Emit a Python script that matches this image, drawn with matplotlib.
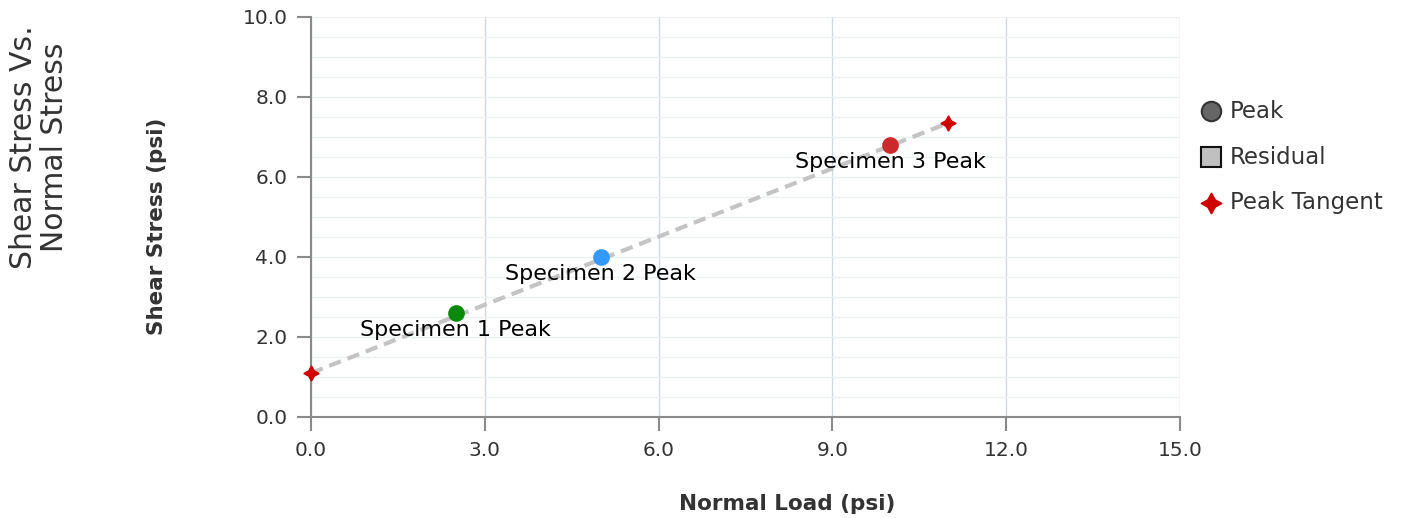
import matplotlib
matplotlib.use("Agg")
import matplotlib.pyplot as plt
from matplotlib.lines import Line2D
from matplotlib.ticker import MultipleLocator

# data
specimen_labels = ["Specimen 1 Peak", "Specimen 2 Peak", "Specimen 3 Peak"]
specimen_x = [2.5, 5.0, 10.0]
specimen_y = [2.6, 4.0, 6.8]
specimen_colors = ["#0a8a0a", "#3399ff", "#cc2a2a"]

tangent_x = [0.0, 11.0]
tangent_y = [1.1, 7.35]

legend_labels = ["Peak", "Residual", "Peak Tangent"]

W, H = 1406, 518
fig = plt.figure(figsize=(W / 100, H / 100), dpi=100)
ax = fig.add_axes([311 / W, 1 - 417 / H, (1180 - 311) / W, 400 / H])

ax.set_xlim(0, 15)
ax.set_ylim(0, 10)
ax.xaxis.set_major_locator(MultipleLocator(3))
ax.yaxis.set_major_locator(MultipleLocator(2))
ax.yaxis.set_minor_locator(MultipleLocator(0.5))
ax.set_xticklabels([f"{v:.1f}" for v in ax.get_xticks()])
ax.set_yticklabels([f"{v:.1f}" for v in ax.get_yticks()])

# grid
ax.grid(True, axis="x", which="major", color="#cfd9e3", lw=1)
ax.grid(True, axis="y", which="both", color="#edf0f3", lw=1)
ax.set_axisbelow(True)

for s in ["top", "right"]:
    ax.spines[s].set_visible(False)
for s in ["left", "bottom"]:
    ax.spines[s].set_color("#8a8a8a")
    ax.spines[s].set_linewidth(1.5)

ax.tick_params(axis="both", which="major", color="#8a8a8a", width=1.5, length=10,
               labelsize=14.5, labelcolor="#333333", pad=7)
ax.tick_params(axis="y", which="minor", length=0)

# tangent line
ax.plot(tangent_x, tangent_y, color="#c4c4c4", lw=3, ls=(0, (3, 1.7)), zorder=2)
ax.plot(tangent_x, tangent_y, ls="none", marker=(4, 1, 0), ms=11, color="#d00000",
        mec="#d00000", zorder=4, clip_on=False)

# specimen peaks
for lab, x, y, c in zip(specimen_labels, specimen_x, specimen_y, specimen_colors):
    ax.plot(x, y, "o", ms=11, color=c, mec=c, zorder=3)
    ax.annotate(lab, (x, y), xytext=(0, -12), textcoords="offset points",
                ha="center", va="center", fontsize=16, color="black")

# axis titles
fig.text(787 / W, 1 - 504 / H, "Normal Load (psi)", ha="center", va="center",
         fontsize=15.5, fontweight="bold", color="#333333")
fig.text(157 / W, 1 - 226 / H, "Shear Stress (psi)", ha="center", va="center",
         rotation=90, fontsize=15.5, fontweight="bold", color="#333333")
fig.text(39 / W, 1 - 147 / H, "Shear Stress Vs.\nNormal Stress", rotation=90, ha="center",
         va="center", fontsize=21.5, color="#333333", linespacing=1.05)

# legend
handles = [
    dict(marker="o", ms=14, mfc="#666666", mec="#333333", mew=1.5),
    dict(marker="s", ms=14, mfc="#c0c0c0", mec="#111111", mew=1.5),
    dict(marker=(4, 1, 0), ms=15, mfc="#d00000", mec="#d00000", mew=1),
]
for i, (lab, h) in enumerate(zip(legend_labels, handles)):
    yy = 1 - (111 + 46 * i) / H
    fig.add_artist(Line2D([1211 / W], [yy], ls="none", transform=fig.transFigure, **h))
    fig.text(1230 / W, yy, lab, ha="left", va="center", fontsize=16.5, color="#333333")

fig.savefig("out.png", dpi=100)
